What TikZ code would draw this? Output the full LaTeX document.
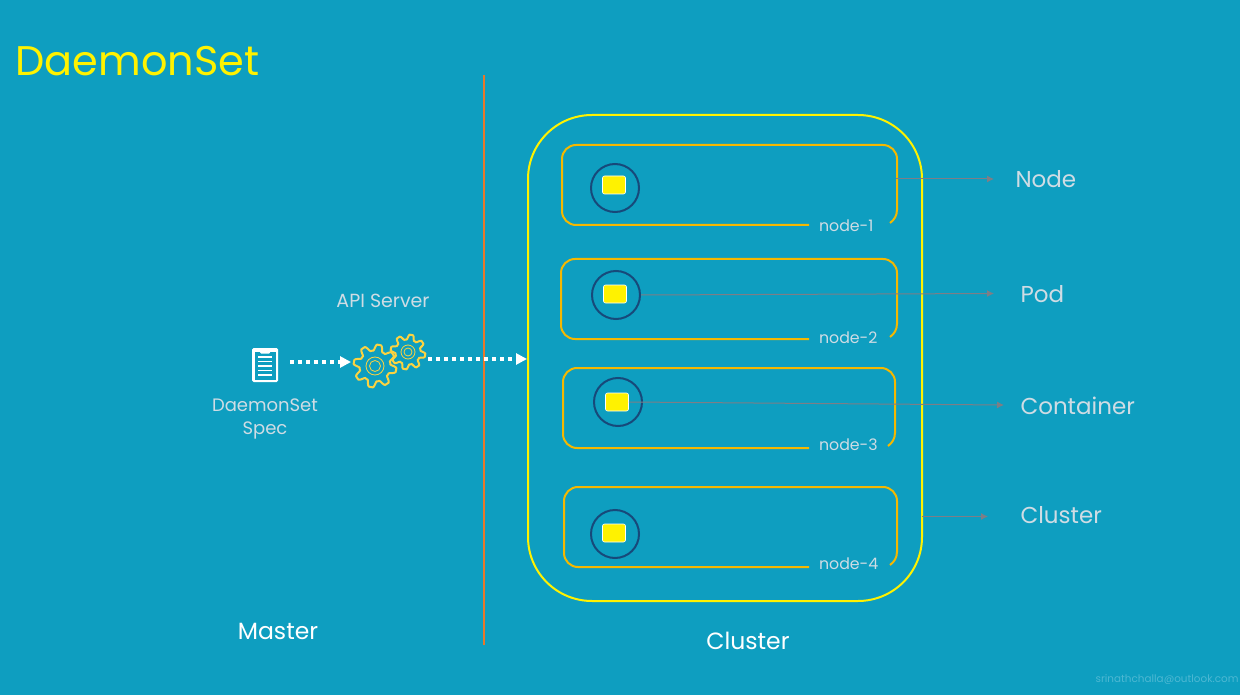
\documentclass[tikz,border=0pt]{standalone}
\usepackage{fontspec}
\setmainfont{Poppins}
\usepackage{xcolor}
\usetikzlibrary{arrows.meta, positioning, calc}
\definecolor{bgteal}{HTML}{0E9EC0}
\definecolor{labelgrey}{HTML}{CFDCE4}
\definecolor{framegold}{HTML}{F5B800}
\definecolor{gearyellow}{HTML}{FBD341}
\definecolor{podblue}{HTML}{17497A}
\definecolor{pointergrey}{HTML}{7E7E86}
\definecolor{dividerorange}{HTML}{E8782A}
\definecolor{mailblue}{HTML}{4DB8D3}

\begin{document}
\begin{tikzpicture}[
    x=1pt, y=-1pt,
    font=\fontsize{18}{23}\selectfont,
    cluster/.style={draw=yellow, line width=2pt, rounded corners=64pt, minimum width=394pt, minimum height=486pt},
    nodeframe/.style={draw=framegold, line width=2pt},
    pod/.style={circle, draw=podblue, line width=2pt, minimum size=48pt, inner sep=0pt},
    container/.style={draw=white, fill=yellow, line width=0.6pt, rounded corners=2pt, minimum width=23pt, minimum height=18pt, inner sep=0pt},
    nodelabel/.style={text=labelgrey, font=\fontsize{15.8}{18}\selectfont, anchor=west},
    sidelabel/.style={text=labelgrey, font=\fontsize{23}{28}\selectfont},
    toplabel/.style={text=white, font=\fontsize{23.5}{28}\selectfont},
    pointer/.style={-{Latex[length=7pt,width=7pt]}, draw=pointergrey, line width=1pt},
    flow/.style={-{Triangle[length=11pt,width=11pt]}, draw=white, line width=3.2pt, dash pattern=on 4pt off 4pt},
    pics/gearicon/.style n args={3}{code={
        \draw[gearyellow, line width=2pt] plot[smooth, domain=0:360, samples=129]
            ({(#1+0.16*#1*max(-1,min(1,1.7*sin(8*\x))))*cos(\x)},{(#1+0.16*#1*max(-1,min(1,1.7*sin(8*\x))))*sin(\x)}) -- cycle;
        \draw[gearyellow, line width=0.8pt] (0,0) circle[radius=#2] (0,0) circle[radius=#3];
    }}
]
    \fill[bgteal] (0,0) rectangle (1240,695);
    \useasboundingbox (0,0) rectangle (1240,695);

    \node[text=yellow, font=\fontsize{41.4}{46}\selectfont, anchor=west] (title) at (12,61) {DaemonSet};
    \draw[dividerorange, line width=1.8pt] (484,75) -- (484,645);
    \node[cluster] (clusterbox) at (725,358) {};

    % worker nodes: number/left/top/right/bottom/pod x/pod y/box y/label y
    \foreach \n/\l/\t/\r/\b/\px/\py/\cy/\ty in {1/562/145/897/225/615/188/185/226, 2/561/259/897/339/616/295/294/338, 3/563/368/895/448/618/402/402/445, 4/564/487/897/567/615/534/533/564}{
        \draw[nodeframe, rounded corners=14pt] (809,\b) -- (\l,\b) -- (\l,\t) -- (\r,\t) -- (\r,\b-15);
        \draw[nodeframe] (\r,\b-15.5) .. controls (\r,\b-9) and (\r-3,\b-5) .. (\r-7,\b-2);
        \node[pod] (pod\n) at (\px,\py) {};
        \node[container] (ctr\n) at (\px-1,\cy) {};
        \node[nodelabel] (label\n) at (815.5,\ty) {node-\n};
    }

    % spec icon
    \node[fill=white, rounded corners=1.5pt, minimum width=26pt, minimum height=34pt, inner sep=0pt] (spec) at (265,365) {};
    \fill[bgteal] (254.5,352) rectangle (275.5,379.5);
    \fill[white, rounded corners=1pt] (260,348) rectangle (270,353.5);
    \foreach \ly in {357,361.5,366,370.5,375}{
        \draw[white, line width=1.2pt] (258,\ly) -- (272,\ly);
    }
    \node[text=labelgrey, align=center, below=13pt of spec] (speclabel) {DaemonSet\\Spec};

    \pic at (375,366) {gearicon={18.5}{9}{5.5}};
    \pic at (408,352) {gearicon={15}{7}{4}};
    \node[text=labelgrey, font=\fontsize{19}{23}\selectfont] (apilabel) at (383,301) {API Server};

    \coordinate (specout) at (290,362);
    \coordinate (gearin) at (351,362);
    \coordinate (gearout) at (428,359);
    \draw[flow] (specout) -- (gearin);
    \draw[flow] (gearout) -- (gearout -| clusterbox.west);

    \node[sidelabel, anchor=west] (nodetext) at (1012,179) {Node};
    \node[sidelabel, anchor=west] (podtext) at (1017,294) {Pod};
    \node[sidelabel, anchor=west] (ctrtext) at (1017,406) {Container};
    \node[sidelabel, anchor=west] (clustertext) at (1017,515) {Cluster};

    \coordinate (frameedge) at (896,179);
    \coordinate (nodeend) at (994,179);
    \coordinate (podend) at (994,293.5);
    \coordinate (ctrend) at (1004,405);
    \coordinate (clusterstart) at (922,516.5);
    \coordinate (clusterend) at (988,516.5);
    \draw[pointer] (frameedge) -- (nodeend);
    \draw[pointer] (pod2.east) -- (podend);
    \draw[pointer] (ctr3.east) -- (ctrend);
    \draw[pointer] (clusterstart) -- (clusterend);

    \node[toplabel] (mastertext) at (278,631) {Master};
    \node[toplabel] (clustername) at (748,641) {Cluster};
    \node[text=mailblue, font=\fontsize{10.4}{13}\selectfont, anchor=east] (mail) at (1242,680) {srinathchalla@outlook.com};
\end{tikzpicture}
\end{document}
